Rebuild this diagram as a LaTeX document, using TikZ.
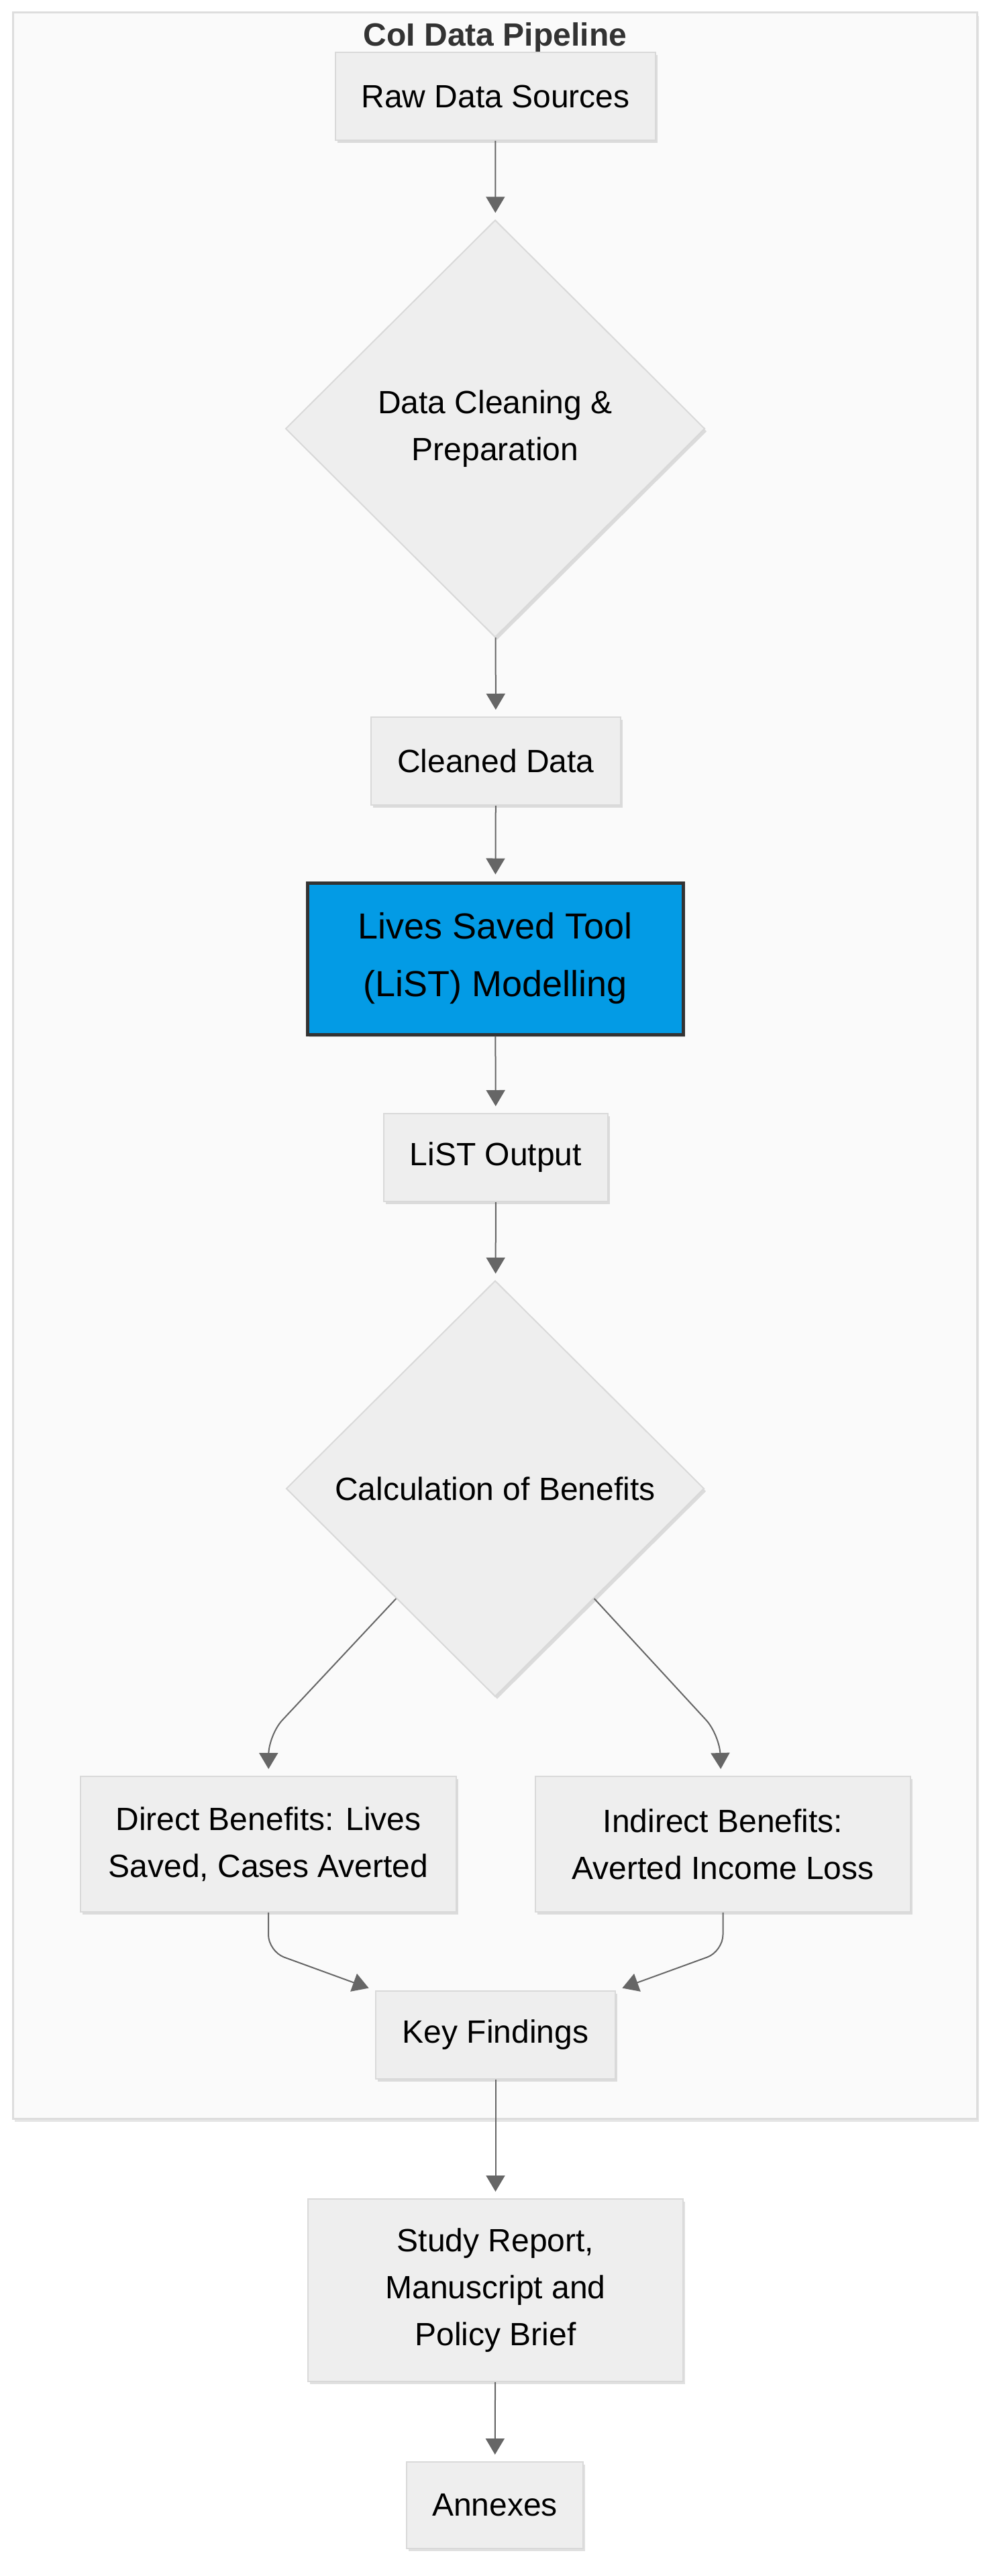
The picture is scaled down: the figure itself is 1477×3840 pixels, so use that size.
\documentclass[tikz,border=0pt]{standalone}
\usepackage{fontspec}
\setmainfont{Liberation Sans}
\usetikzlibrary{shapes.geometric,arrows.meta,shadows}
\definecolor{boxfill}{HTML}{EEEEEE}
\definecolor{boxline}{HTML}{D9D9D9}
\definecolor{edgegray}{HTML}{666666}
\definecolor{panelfill}{HTML}{FAFAFA}
\definecolor{panelline}{HTML}{DDDDDD}
\definecolor{listblue}{HTML}{039BE5}
\definecolor{titlegray}{HTML}{333333}
\begin{document}
\begin{tikzpicture}[x=1pt,y=-1pt]
\tikzstyle{box}=[draw=boxline,line width=2pt,fill=boxfill,align=center,inner sep=0pt,minimum height=131pt,font=\fontsize{48}{70}\selectfont,drop shadow={shadow xshift=3pt,shadow yshift=-4pt,fill=black,opacity=0.12}]
\tikzstyle{decision}=[box,shape=diamond,aspect=1]
\tikzstyle{model}=[box,draw=titlegray,line width=5pt,fill=listblue,font=\fontsize{54}{86}\selectfont]
\tikzstyle{flow}=[draw=edgegray,line width=2pt,-{Triangle[length=24pt,width=28pt]},shorten >=10pt]
\useasboundingbox (0,0) rectangle (1477,3840);
\path[fill=panelfill,draw=panelline,line width=3pt,drop shadow={shadow xshift=3pt,shadow yshift=-5pt,fill=black,opacity=0.10}] (19,19) rectangle (1456,3158);
\path (738,56) node[font=\bfseries\fontsize{48}{58}\selectfont,text=titlegray](title){CoI Data Pipeline};

\path (738.5,143.5) node[box,minimum width=477pt](raw){Raw Data Sources};
\path (738,639) node[decision,minimum width=625pt,minimum height=622pt](clean){Data Cleaning \&\\Preparation};
\path (739,1134.5) node[box,minimum width=372pt](cleaned){Cleaned Data};
\path (738,1429) node[model,minimum width=560pt,minimum height=226pt](list){Lives Saved Tool\\(LiST) Modelling};
\path (739,1725.5) node[box,minimum width=334pt](output){LiST Output};
\path (738,2219) node[decision,minimum width=623pt,minimum height=620pt](calc){Calculation of Benefits};
\path (400,2749) node[box,minimum width=560pt,minimum height=202pt](direct){Direct Benefits: Lives\\Saved, Cases Averted} (1077.5,2749) node[box,minimum width=559pt,minimum height=202pt](indirect){Indirect Benefits:\\Averted Income Loss};
\path (738.5,3033.5) node[box,minimum width=357pt](key){Key Findings};
\path (738.5,3414) node[box,minimum width=559pt,minimum height=272pt](report){Study Report,\\Manuscript and\\Policy Brief};
\path (737.5,3734.5) node[box,minimum width=263pt,minimum height=129pt](annex){Annexes};

\draw[flow] (raw) -- (clean);
\draw[flow] (clean) -- (cleaned);
\draw[flow] (cleaned) -- (list);
\draw[flow] (list) -- (output);
\draw[flow] (output) -- (calc);
\draw[flow,rounded corners=30pt] (calc.228) -- ++(-190,203) -- (direct);
\draw[flow,rounded corners=30pt] (calc.312) -- ++(187,203) -- (indirect);
\draw[flow,rounded corners=25pt] (direct.south) -- ++(0,58) -- (key.north west);
\draw[flow,rounded corners=25pt] (indirect.south) -- ++(0,58) -- (key.north east);
\draw[flow] (key) -- (report);
\draw[flow] (report) -- (annex);
\end{tikzpicture}
\end{document}
